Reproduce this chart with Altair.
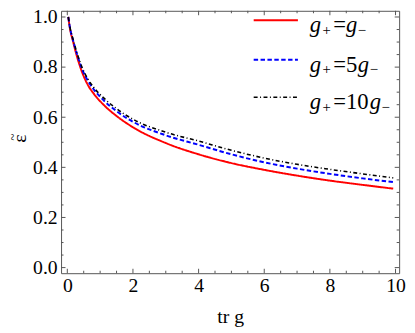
import altair as alt
import pandas as pd

# ---- data ----
tr_g = [0.03, 0.08, 0.17, 0.3, 0.45, 0.63, 0.8, 1.15, 1.5, 2, 3, 4, 5, 6, 7, 8, 9, 9.93]
eps_equal = [1.0, 0.955, 0.905, 0.84, 0.78, 0.728, 0.695, 0.644, 0.605, 0.56, 0.497, 0.452, 0.417,
             0.39, 0.367, 0.347, 0.33, 0.315]
eps_5 = [1.0, 0.958, 0.91, 0.85, 0.792, 0.745, 0.712, 0.662, 0.624, 0.582, 0.528, 0.49, 0.452,
         0.42, 0.395, 0.374, 0.356, 0.341]
eps_10 = [1.0, 0.96, 0.913, 0.855, 0.798, 0.752, 0.72, 0.672, 0.634, 0.592, 0.54, 0.505, 0.468,
          0.437, 0.412, 0.392, 0.374, 0.358]
series = ["g+=g-", "g+=5g-", "g+=10g-"]
legend_coef = ["=", "=5", "=10"]
x_major = [0, 2, 4, 6, 8, 10]
x_minor = [v / 2 for v in range(0, 21) if v % 4 != 0]
y_major = [0.0, 0.2, 0.4, 0.6, 0.8, 1.0]
y_minor = [round(v * 0.05, 2) for v in range(0, 21) if v % 4 != 0]
x_title = "tr g"
y_title = "ε"
y_title_accent = "~"

colors = ["#ff0000", "#0000ff", "#000000"]
dashes = [[1, 0], [4.5, 2.5], [4, 2.5, 1, 2.5]]
widths = [2, 2, 1.6]

W, H = 344, 267
xdom = [-0.19, 10.11]
ydom = [-0.0224, 1.0247]
FRAME = "#555555"
FONT = "Liberation Serif, Times New Roman, DejaVu Serif, serif"

xs = alt.Scale(domain=xdom, nice=False, zero=False)
ys = alt.Scale(domain=ydom, nice=False, zero=False)

rows = []
for name, vals in zip(series, [eps_equal, eps_5, eps_10]):
    for xv, yv in zip(tr_g, vals):
        rows.append({"x": xv, "y": yv, "s": name})
df = pd.DataFrame(rows)

layers = []
for i, name in enumerate(series):
    d = df[df.s == name]
    layers.append(
        alt.Chart(d).mark_line(color=colors[i], strokeWidth=widths[i], strokeDash=dashes[i],
                               interpolate="monotone", clip=True)
        .encode(
            x=alt.X("x:Q", scale=xs, axis=alt.Axis(
                values=x_major, format="d", title=x_title, ticks=False, domain=False, grid=False,
                labelFont=FONT, labelFontSize=20, labelColor="black", labelPadding=3,
                labelFlush=False, labelOverlap=False, titleFont=FONT, titleFontSize=20,
                titleFontWeight="normal", titleColor="black", titlePadding=11)),
            y=alt.Y("y:Q", scale=ys, axis=alt.Axis(
                values=y_major, format=".1f", title=None, ticks=False, domain=False, grid=False,
                labelFont=FONT, labelFontSize=20, labelColor="black", labelPadding=4,
                labelFlush=False, labelOverlap=False)),
        )
    )

# y-axis title: epsilon with a tilde accent, rotated like the reference
one = pd.DataFrame({"k": [0]})
layers.append(alt.Chart(one).mark_text(text=y_title, font=FONT, fontSize=20, angle=270,
                                       align="center", baseline="middle", color="black")
              .encode(x=alt.value(-42), y=alt.value(130)))
layers.append(alt.Chart(one).mark_text(text=y_title_accent, font=FONT, fontSize=13, angle=270,
                                       align="center", baseline="middle", color="black")
              .encode(x=alt.value(-48.5), y=alt.value(128.5)))

# inward ticks on all four sides
def xticks(vals, ln):
    d = pd.DataFrame({"x": vals})
    b = alt.Chart(d).mark_rule(color=FRAME, strokeWidth=1).encode(
        x=alt.X("x:Q", scale=xs), y=alt.value(H), y2=alt.value(H - ln))
    t = alt.Chart(d).mark_rule(color=FRAME, strokeWidth=1).encode(
        x=alt.X("x:Q", scale=xs), y=alt.value(0), y2=alt.value(ln))
    return [b, t]

def yticks(vals, ln):
    d = pd.DataFrame({"y": vals})
    l = alt.Chart(d).mark_rule(color=FRAME, strokeWidth=1).encode(
        y=alt.Y("y:Q", scale=ys), x=alt.value(0), x2=alt.value(ln))
    r = alt.Chart(d).mark_rule(color=FRAME, strokeWidth=1).encode(
        y=alt.Y("y:Q", scale=ys), x=alt.value(W), x2=alt.value(W - ln))
    return [l, r]

layers += xticks(x_major, 4.5) + xticks(x_minor, 2.5) + yticks(y_major, 4.5) + yticks(y_minor, 2.5)

# legend (top right, inside the frame)
line_y = [9.7, 49.7, 88]
base_y = [22, 62, 100]
g2_x = [290, 302, 314]
for i, name in enumerate(series):
    layers.append(alt.Chart(one).mark_rule(color=colors[i], strokeWidth=widths[i],
                                           strokeDash=dashes[i]).encode(
        x=alt.value(196), x2=alt.value(241), y=alt.value(line_y[i])))
    pieces = [
        ("g", 253, base_y[i], 23, "italic"),
        ("+", 266, base_y[i] + 2.5, 15, "normal"),
        (legend_coef[i], 277, base_y[i], 23, "normal"),
        ("g", g2_x[i], base_y[i], 23, "italic"),
        ("\u2212", g2_x[i] + 12, base_y[i] + 2.5, 15, "normal"),
    ]
    for txt, px, py, fs, st in pieces:
        layers.append(alt.Chart(one).mark_text(text=txt, font=FONT, fontSize=fs, fontStyle=st,
                                               align="left", baseline="alphabetic",
                                               color="black").encode(
            x=alt.value(px), y=alt.value(py)))

chart = alt.layer(*layers).properties(
    width=W, height=H,
    padding={"left": 54, "top": 0, "right": 8, "bottom": 58},
    autosize=alt.AutoSizeParams(type="none"),
).configure_view(stroke=FRAME, strokeWidth=1)

chart.save("out.html", embed_options={"renderer": "svg", "actions": False})
